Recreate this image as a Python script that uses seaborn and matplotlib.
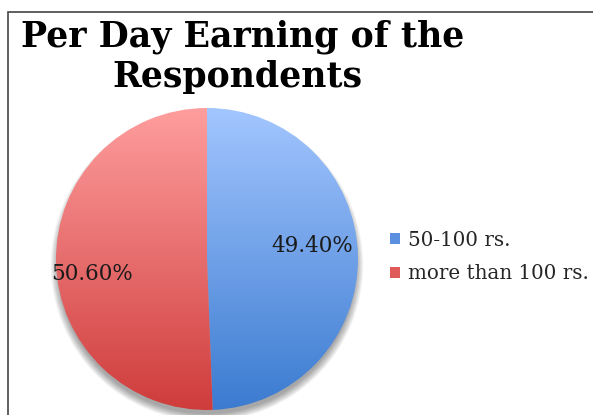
import matplotlib
matplotlib.use("Agg")
import matplotlib.pyplot as plt
import numpy as np
import seaborn as sns
from matplotlib.patches import Rectangle, Circle
from matplotlib.colors import LinearSegmentedColormap

# Survey data: per-day earning groups and their share of respondents (%)
categories = ["50-100 rs.", "more than 100 rs."]
shares = [49.40, 50.60]
title_lines = ["Per Day Earning of the", "Respondents"]

# Gradient colours for each slice (bottom -> top)
slice_gradients = [("#3b7bd0", "#a3c6ff"), ("#cf3c3c", "#ff9e9e")]
legend_colors = ["#5b8fe0", "#e05a5a"]

sns.set_theme(style="white")
plt.rcParams["font.family"] = ["DejaVu Serif"]

W, H = 593, 415
fig = plt.figure(figsize=(W / 100, H / 100), dpi=100)
ax = fig.add_axes([0, 0, 1, 1])

cx, cy, r = 207, H - 259, 151

# soft drop shadow falling below the pie
for i in range(10):
    ax.add_patch(Circle((cx, cy - 6), r - 2 + i * 0.8, facecolor="black",
                        alpha=0.04, lw=0, zorder=1))

wedges, texts, autotexts = ax.pie(
    shares, center=(cx, cy), radius=r, startangle=90, counterclock=False,
    autopct="%.2f%%", wedgeprops=dict(linewidth=0),
    textprops=dict(fontsize=15.5, color="#1a1a1a"))

grad = np.linspace(0, 1, 256).reshape(-1, 1)
for w, (lo, hi) in zip(wedges, slice_gradients):
    w.set_facecolor("none")
    w.set_zorder(2)
    cmap = LinearSegmentedColormap.from_list("g", [lo, hi])
    im = ax.imshow(grad, cmap=cmap, origin="lower", aspect="auto",
                   extent=(cx - r, cx + r, cy - r, cy + r), zorder=2,
                   interpolation="bilinear")
    im.set_clip_path(w)

# percentage labels placed inside the slices
label_pos = [(312, H - 246), (92, H - 274)]
for t, (x, y) in zip(autotexts, label_pos):
    t.set_position((x, y))
    t.set_ha("center")
    t.set_va("center")
    t.set_zorder(5)

# title, two centred lines
ax.text(243, H - 47, title_lines[0], ha="center", va="baseline",
        fontsize=25, fontweight="bold", color="black")
ax.text(237, H - 87, title_lines[1], ha="center", va="baseline",
        fontsize=25, fontweight="bold", color="black")

# legend
handles = [Rectangle((0, 0), 1, 1, facecolor=c, lw=0) for c in legend_colors]
ax.legend(handles, categories, loc="center left",
          bbox_to_anchor=(390 / W, 1 - 257 / H), frameon=False,
          handlelength=0.5, handleheight=0.5, handletextpad=0.4,
          labelspacing=0.75, fontsize=14.3, borderaxespad=0,
          borderpad=0)

# chart frame
ax.add_patch(Rectangle((8, -10), W, H - 12 + 10, fill=False,
                       edgecolor="#444444", lw=1.2, zorder=6))

ax.set_xlim(0, W)
ax.set_ylim(0, H)
ax.set_aspect("auto")
ax.axis("off")

fig.savefig("out.png", dpi=100)
